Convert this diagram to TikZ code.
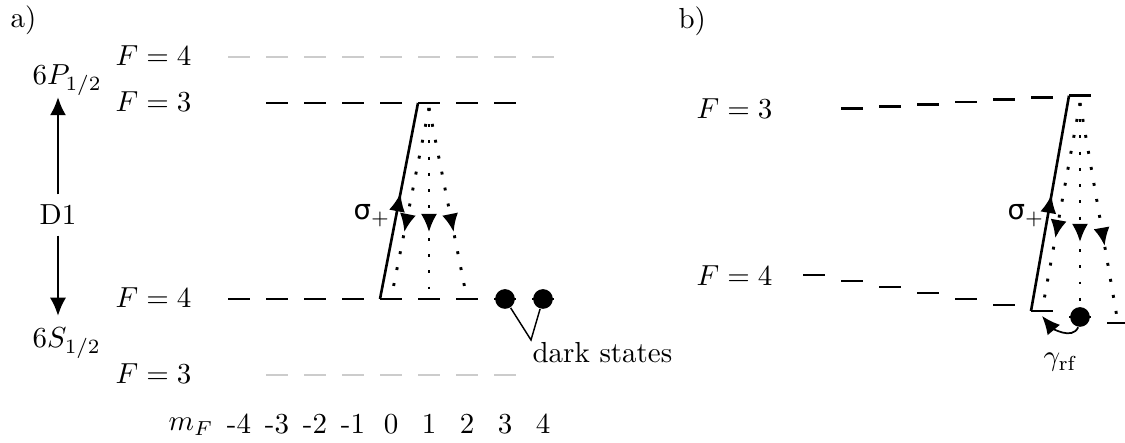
\documentclass[tikz,border=0pt]{standalone}
\usepackage{fontspec}
\newfontfamily\grkfont{DejaVu Sans}
\usetikzlibrary{arrows.meta,decorations.markings,calc}
\begin{document}
\begin{tikzpicture}[x=0.345pt,y=-0.345pt,
  lvl/.style={line width=1pt},
  glvl/.style={line width=1pt,draw=gray!40},
  pump/.style={line width=0.9pt, postaction={decorate},
    decoration={markings, mark=at position 0.54 with {\arrow{Latex[length=6.3pt,width=5.6pt]}}}},
  decay/.style={line width=1pt, dash pattern=on 1pt off 4.6pt, postaction={decorate},
    decoration={markings, mark=at position 0.65 with {\arrow{Latex[length=6.3pt,width=5.6pt]}}}},
  tip/.style={-{Latex[length=6.3pt,width=5.6pt]}, line width=0.9pt},
  dotst/.style={circle, fill, inner sep=0pt, minimum size=6.8pt},
  lbl/.style={anchor=base west, inner sep=0pt},
  num/.style={anchor=base, inner sep=0pt},
  sig/.style={anchor=base, inner sep=0pt},
]
\clip (0,0) rectangle (1125,443);
% ---------- panel a ----------
\foreach \i in {0,...,8}{
  \coordinate (aT4L\i) at ({228+38*\i},57);
  \coordinate (aT4R\i) at ({250+38*\i},57);
  \draw[glvl] (aT4L\i) -- (aT4R\i);
  \coordinate (aG4L\i) at ({228+38*\i},299);
  \coordinate (aG4C\i) at ({239+38*\i},299);
  \coordinate (aG4R\i) at ({250+38*\i},299);
  \draw[lvl] (aG4L\i) -- (aG4R\i);
  \pgfmathtruncatemacro\mm{\i-4}
  \node[num] (mf\i) at ({239+38*\i},434) {\mm};
}
\foreach \i in {1,...,7}{
  \coordinate (aE3L\i) at ({228+38*\i},103);
  \coordinate (aE3R\i) at ({250+38*\i},103);
  \draw[lvl] (aE3L\i) -- (aE3R\i);
  \coordinate (aB3L\i) at ({228+38*\i},375);
  \coordinate (aB3R\i) at ({250+38*\i},375);
  \draw[glvl] (aB3L\i) -- (aB3R\i);
}
\node[lbl] (la) at (10,28) {a)};
\node[lbl] (lP) at (32,85) {$6P_{1/2}$};
\node[lbl] (lS) at (32,348) {$6S_{1/2}$};
\node[inner sep=3.5pt] (lD) at (58,215) {D1};
\coordinate (upTip) at (58,97);
\coordinate (dnTip) at (58,316);
\draw[tip] (lD.north) -- (upTip);
\draw[tip] (lD.south) -- (dnTip);
\node[lbl] (aF4t) at (115,66) {$F=4$};
\node[lbl] (aF3t) at (115,112) {$F=3$};
\node[lbl] (aF4b) at (115,308) {$F=4$};
\node[lbl] (aF3b) at (115,384) {$F=3$};
\node[lbl] (lmF) at (168,431) {$m_F$};
% transitions
\draw[pump] (aG4L4) -- (aE3L5);
\node[sig] (sa) at (372,220) {{\grkfont\fontsize{9.5}{10}\selectfont σ}$_+$};
\coordinate (aTop) at (429,108);
\foreach \j in {4,5,6}{ \draw[decay] (aTop) -- (aG4C\j); }
\node[dotst] (ad7) at (aG4C7) {};
\node[dotst] (ad8) at (aG4C8) {};
\coordinate (dsj) at (531,340);
\draw[line width=0.5pt] (ad7) -- (dsj) -- (ad8);
\node[lbl] (dstxt) at (532,363) {dark states};
% ---------- panel b ----------
\node[lbl] (lb) at (678,29) {b)};
\node[lbl] (bF3) at (696,119) {$F=3$};
\node[lbl] (bF4) at (696,286) {$F=4$};
\foreach \i in {0,...,8}{
  \coordinate (bG4L\i) at ({803+38*\i},{275+6*\i});
  \coordinate (bG4C\i) at ({814+38*\i},{275+6*\i});
  \coordinate (bG4R\i) at ({825+38*\i},{275+6*\i});
  \draw[lvl] (bG4L\i) -- (bG4R\i);
}
\foreach \i in {1,...,7}{
  \coordinate (bE3L\i) at ({803+38*\i},{102-2.1*(\i-4)});
  \coordinate (bE3R\i) at ({825+38*\i},{102-2.1*(\i-4)});
  \draw[lvl] (bE3L\i) -- (bE3R\i);
}
\draw[pump] (bG4L6) -- (bE3L7);
\node[sig] (sb) at (1026,220) {{\grkfont\fontsize{9.5}{10}\selectfont σ}$_+$};
\coordinate (bTop) at (1080,103);
\foreach \j in {6,7,8}{ \draw[decay] (bTop) -- (bG4C\j); }
\node[dotst] (bdot) at (bG4C7) {};
\coordinate (gtip) at (1042,316);
\draw[-{Latex[length=6.3pt,width=5.6pt]}, line width=0.6pt] (bdot.-100) to[out=-115,in=-50] (gtip);
\node[num] (glbl) at (1060,366) {$\gamma_{\mathrm{rf}}$};
\end{tikzpicture}
\end{document}
